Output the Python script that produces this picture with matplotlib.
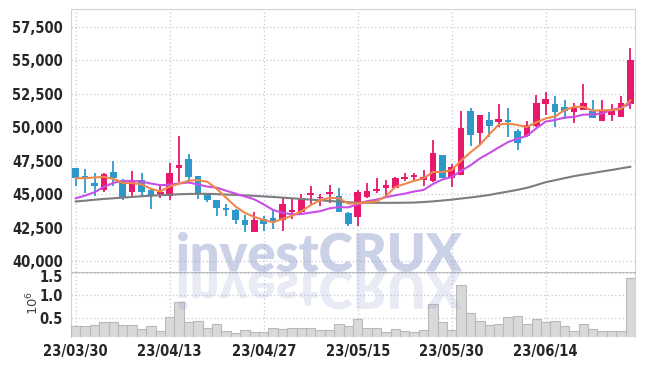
import numpy as np
import pandas as pd
import matplotlib
matplotlib.use('Agg')
import matplotlib.pyplot as plt
from matplotlib.ticker import FuncFormatter
from matplotlib.textpath import TextPath
from matplotlib.patches import PathPatch
from matplotlib.font_manager import FontProperties, findfont
from matplotlib.transforms import Affine2D, ScaledTranslation

# daily candles, 60 trading days (23/03/30 .. 23/06/27)
opens = [46950, 46350, 45850, 45300, 46650, 46100, 45150, 46050, 45350, 45000,
         44900, 46950, 47600, 46350, 45050, 44550, 44000, 43850, 43100, 42200,
         43150, 43200, 43100, 43650, 43650, 44950, 44700, 45050, 44850, 43600,
         43300, 44800, 45250, 45500, 45450, 46150, 46250, 46100, 46000, 47900,
         46200, 46400, 51200, 49600, 50550, 50400, 50550, 49700, 49350, 50100,
         51700, 51700, 51500, 51100, 51300, 51200, 50500, 50900, 50800, 51700]
closes = [46200, 46200, 45650, 46500, 46200, 44700, 46100, 45200, 44850, 45200,
          46550, 47150, 46300, 45100, 44550, 43950, 43800, 43050, 42700, 43050,
          42800, 42950, 44300, 43850, 44750, 45100, 44800, 45150, 43700, 42800,
          45150, 45250, 45400, 45700, 46200, 46300, 46400, 46300, 48100, 46200,
          47000, 49950, 49400, 50900, 50100, 50600, 50400, 48800, 50200, 51800,
          52100, 51100, 51200, 51400, 51800, 50700, 51200, 51300, 51800, 55000]
highs = [46950, 46850, 46550, 46600, 47450, 46150, 46750, 46600, 45400, 45750,
         47350, 49350, 48000, 46350, 45100, 44600, 44300, 43900, 43450, 43650,
         43350, 43900, 44700, 44700, 45050, 45650, 45050, 45700, 45450, 43650,
         45300, 45850, 46200, 46100, 46250, 46550, 46600, 46800, 49050, 47950,
         47250, 51200, 51400, 50900, 51100, 51700, 51400, 49900, 50500, 52400,
         52600, 52300, 52000, 51800, 53200, 52000, 52000, 51700, 52300, 55900]
lows = [45650, 45100, 44900, 45150, 45650, 44600, 44900, 44900, 43900, 44700,
        44550, 45900, 45900, 44650, 44450, 43400, 43400, 42800, 42150, 42150,
        42250, 42400, 42250, 43150, 43550, 44300, 44150, 44350, 43700, 42650,
        42650, 44750, 45100, 44750, 45450, 46000, 46050, 45650, 45950, 46200,
        45550, 46400, 48600, 48700, 49250, 50050, 49250, 48300, 49300, 50000,
        50900, 50000, 50600, 50300, 51300, 50700, 50500, 50500, 50800, 51350]

# volume, millions of shares
volume_m = [0.30, 0.31, 0.33, 0.39, 0.39, 0.33, 0.33, 0.24, 0.30, 0.19,
            0.51, 0.85, 0.39, 0.42, 0.26, 0.35, 0.19, 0.16, 0.21, 0.17,
            0.17, 0.27, 0.24, 0.27, 0.27, 0.27, 0.22, 0.22, 0.35, 0.31,
            0.47, 0.27, 0.27, 0.17, 0.24, 0.20, 0.17, 0.22, 0.81, 0.40,
            0.22, 1.24, 0.60, 0.43, 0.33, 0.35, 0.52, 0.54, 0.35, 0.47,
            0.40, 0.43, 0.31, 0.20, 0.35, 0.24, 0.20, 0.20, 0.20, 1.40]

# moving averages: first values depend on earlier history
ma5_head = [46200, 46200, 46250, 46300]
ma10_head = [44700, 44900, 45150, 45550, 45850, 46000, 46000, 45950, 45800]
ma60 = [44460, 44520, 44590, 44650, 44700, 44750, 44800, 44850, 44890, 44930,
        44970, 45000, 45020, 45035, 45030, 45010, 44980, 44950, 44920, 44880,
        44840, 44800, 44750, 44700, 44650, 44600, 44550, 44500, 44450, 44410,
        44380, 44370, 44360, 44360, 44360, 44370, 44380, 44420, 44470, 44530,
        44600, 44680, 44760, 44850, 44950, 45080, 45200, 45330, 45480, 45680,
        45900, 46050, 46200, 46350, 46470, 46580, 46700, 46810, 46930, 47050]

tick_labels = ['23/03/30', '23/04/13', '23/04/27', '23/05/15', '23/05/30', '23/06/14']

df = pd.DataFrame({'open': opens, 'close': closes, 'high': highs, 'low': lows})
ma5 = df['close'].rolling(5).mean().values
ma5[:len(ma5_head)] = ma5_head
ma10 = df['close'].rolling(10).mean().values
ma10[:len(ma10_head)] = ma10_head

RED = '#e8196c'
BLUE = '#2f98ca'
GRID = '#c6c8d8'
LBL = '#262626'

# narrow font for the tick labels if one is there, else a smaller Roboto
cond = FontProperties(family='DejaVu Sans', stretch='condensed', weight='bold')
if 'Condensed' in findfont(cond):
    lblprops = dict(family='DejaVu Sans', stretch='condensed', weight='bold', size=10.5)
else:
    lblprops = dict(family='Roboto', weight='medium', size=10)

fig = plt.figure(figsize=(6.45, 3.66), dpi=100)
ax = fig.add_axes([71 / 645, 94 / 366, 564 / 645, 263 / 366])
axv = fig.add_axes([71 / 645, 29 / 366, 564 / 645, 65 / 366], sharex=ax)

x = np.arange(len(df))
up = df['close'] >= df['open']
colors = np.where(up, RED, BLUE)

ax.vlines(x, df['low'], df['high'], colors=colors, lw=1.3, zorder=3)
body_lo = df[['open', 'close']].min(axis=1)
body_h = (df['close'] - df['open']).abs().clip(lower=60)
ax.bar(x, body_h, bottom=body_lo, width=0.72, color=colors, zorder=3)

ax.plot(x, ma60, color='#7d7d7d', lw=1.5, zorder=4)
ax.plot(x, ma10, color='#c84fe6', lw=1.5, zorder=4)
ax.plot(x, ma5, color='#f0874a', lw=1.5, zorder=5)

axv.bar(x, volume_m, width=1.0, color='#d9d9d9', edgecolor='#b9b9b9', lw=0.8, zorder=3)

ticks = list(range(0, len(df), 10))
ax.set_xlim(-0.5, len(df) - 0.5)
ax.set_ylim(39200, 58820)
ax.set_yticks(np.arange(40000, 57501, 2500))
ax.yaxis.set_major_formatter(FuncFormatter(lambda v, p: f'{v:,.0f}'))
axv.set_ylim(0.06, 1.53)
axv.set_yticks([0.5, 1.0, 1.5])
axv.yaxis.set_major_formatter(FuncFormatter(lambda v, p: f'{v:.1f}'))
axv.set_xticks(ticks)
axv.set_xticklabels(tick_labels)

for a in (ax, axv):
    a.grid(True, color=GRID, linestyle=(0, (1, 2)), lw=0.9, zorder=0)
    a.tick_params(length=0, labelcolor=LBL, pad=6)
    for lab in a.get_yticklabels() + a.get_xticklabels():
        lab.set(**lblprops)
    for s in a.spines.values():
        s.set_color('#d2d2d2')
    a.set_axisbelow(True)
ax.tick_params(labelbottom=False)
axv.tick_params(axis='x', pad=5)
ax.spines['bottom'].set_visible(False)
axv.spines['bottom'].set_visible(False)
axv.spines['top'].set_color('#bdbdbd')

# top volume label sits right under 40,000; push it down a touch
top_lab = axv.get_yticklabels()[-1]
top_lab.set_transform(top_lab.get_transform() + ScaledTranslation(0, -3 / 100, fig.dpi_scale_trans))

fig.text(33 / 645, 1 - 303 / 366, r'$10^{6}$', rotation=90, ha='center', va='center',
         fontsize=9.5, color='#444444')

# watermark with reflection
fp = FontProperties(family=['Lato', 'DejaVu Sans'], weight='heavy')
tp = TextPath((0, 0), 'investCRUX', size=52, prop=fp)
bb = tp.get_extents()
cx = (bb.x0 + bb.x1) / 2
front = Affine2D().translate(-cx, 0).translate(320, 95)
mirror = Affine2D().translate(-cx, 0).scale(1, -1).translate(320, 95)
fig.add_artist(PathPatch(tp, transform=front, color='#8c9bc8', alpha=0.45, lw=0, zorder=2))
fig.add_artist(PathPatch(tp, transform=mirror, color='#8c9bc8', alpha=0.2, lw=0, zorder=2))

fig.savefig('out.png', dpi=100)
